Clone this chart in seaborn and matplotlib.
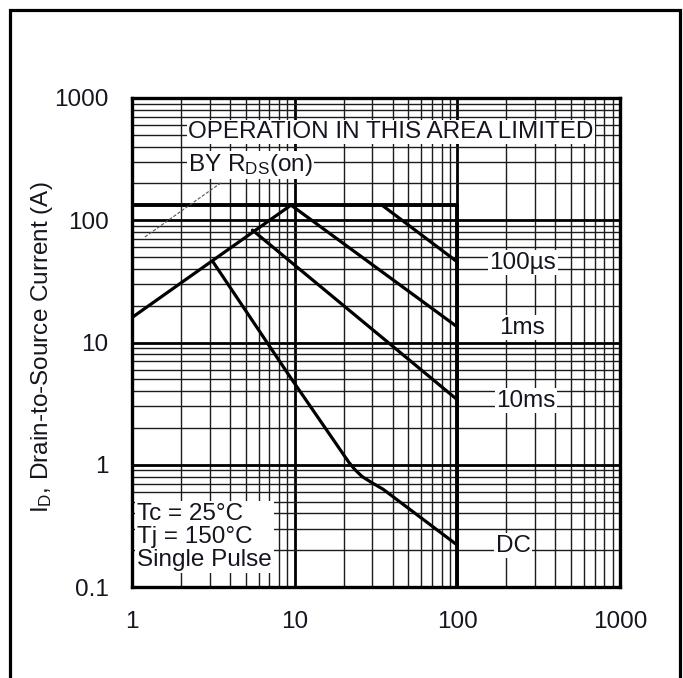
import numpy as np
import pandas as pd
import matplotlib
matplotlib.use("Agg")
import matplotlib.pyplot as plt
from matplotlib.lines import Line2D
from matplotlib.ticker import FixedLocator, FixedFormatter, LogLocator, NullFormatter
import seaborn as sns

# ---- data ----
rds_x = [1, 9.5]
rds_y = [16, 133]
limit_x = [1, 100, 100]
limit_y = [133, 133, 0.1]
us100_x = [34.4, 100]
us100_y = [133, 45.6]
ms1_x = [9.5, 100]
ms1_y = [133, 13.4]
ms10_x = [5.5, 100]
ms10_y = [83, 3.4]
dc_x = [3.15, 9.4, 21.5, 23.5, 26, 30, 35, 100]
dc_y = [45.6, 5.2, 1.05, 0.91, 0.8, 0.71, 0.63, 0.22]

curve_labels = ["100\u00b5s", "1ms", "10ms", "DC"]
x_ticks = [1, 10, 100, 1000]
x_tick_labels = ["1", "10", "100", "1000"]
y_ticks = [0.1, 1, 10, 100, 1000]
y_tick_labels = ["0.1", "1", "10", "100", "1000"]
rds_hint_x = [1.2, 3.57]
rds_hint_y = [73, 205]

sns.set_style("white")
plt.rcParams["font.family"] = ["Liberation Sans", "DejaVu Sans"]
plt.rcParams["mathtext.fontset"] = "custom"
plt.rcParams["mathtext.rm"] = "Liberation Sans"
plt.rcParams["mathtext.it"] = "Liberation Sans"

FS = 17.5
TXT = "#151520"

fig = plt.figure(figsize=(6.83, 6.78), dpi=100)
W, H = 683, 678
L, R, T, B = 132, 620, 98, 587
ax = fig.add_axes([L / W, 1 - B / H, (R - L) / W, (B - T) / H])
ax.set_xscale("log")
ax.set_yscale("log")
ax.set_xlim(1, 1000)
ax.set_ylim(0.1, 1000)

# grid
ax.xaxis.set_minor_locator(LogLocator(base=10, subs=np.arange(2, 10)))
ax.yaxis.set_minor_locator(LogLocator(base=10, subs=np.arange(2, 10)))
ax.xaxis.set_minor_formatter(NullFormatter())
ax.yaxis.set_minor_formatter(NullFormatter())
ax.grid(which="major", color="black", lw=2.0, zorder=0)
ax.grid(which="minor", color="#1c1c1c", lw=1.0, zorder=0)
ax.set_axisbelow(True)

# curves
series = [
    (limit_x, limit_y, 2.8),
    (rds_x, rds_y, 2.3),
    (us100_x, us100_y, 2.3),
    (ms1_x, ms1_y, 2.3),
    (ms10_x, ms10_y, 2.3),
    (dc_x, dc_y, 2.3),
]
for xs, ys, lw in series:
    df = pd.DataFrame({"x": xs, "y": ys})
    sns.lineplot(data=df, x="x", y="y", sort=False, estimator=None,
                 color="black", lw=lw, ax=ax, zorder=3)

# thin dashed hint line under R_DS(on) text
ax.plot(rds_hint_x, rds_hint_y, color="#555555", lw=0.8, ls=(0, (3, 1.5)), zorder=3)

# ticks
ax.xaxis.set_major_locator(FixedLocator(x_ticks))
ax.xaxis.set_major_formatter(FixedFormatter(x_tick_labels))
ax.yaxis.set_major_locator(FixedLocator(y_ticks))
ax.yaxis.set_major_formatter(FixedFormatter(y_tick_labels))
ax.tick_params(axis="x", which="both", length=0, pad=17, labelsize=FS, labelcolor=TXT)
ax.tick_params(axis="y", which="major", direction="in", length=16, width=2.2,
               color="black", pad=17, labelsize=FS, labelcolor=TXT)
ax.tick_params(axis="y", which="minor", length=0)

for sp in ax.spines.values():
    sp.set_visible(True)
    sp.set_color("black")
    sp.set_linewidth(2.4)

ax.set_xlabel("")
ax.set_ylabel(r"I$_{\mathregular{D}}$, Drain-to-Source Current (A)", fontsize=FS, color=TXT)
ax.yaxis.set_label_coords(-0.158, 0.49)

wbox = dict(facecolor="white", edgecolor="none", pad=1.0)

ax.text(2.21, 527, "OPERATION IN THIS AREA LIMITED", fontsize=FS, color=TXT,
        ha="left", va="center", bbox=wbox, zorder=5)
ax.text(2.21, 283, r"BY R$_{\mathregular{DS}}$(on)", fontsize=FS, color=TXT,
        ha="left", va="center", bbox=wbox, zorder=5)

label_x = [253, 250, 264, 220]
ends = [us100_y[-1], ms1_y[-1], ms10_y[-1], dc_y[-1]]
for lx, ly, lab in zip(label_x, ends, curve_labels):
    ax.text(lx, ly * 0.985, lab, fontsize=FS, color=TXT, ha="center", va="center",
            bbox=wbox, zorder=5)

ax.text(1.07, 0.135, "Tc = 25\u00b0C\nTj = 150\u00b0C\nSingle Pulse", fontsize=FS,
        color=TXT, ha="left", va="bottom", linespacing=1.05,
        bbox=dict(facecolor="white", edgecolor="none", pad=1.5), zorder=5)

# outer frame of the figure (open at the bottom)
x0, x1 = 9.5 / W, 680 / W
yt = 1 - 9.5 / H
fig.add_artist(Line2D([x0, x0, x1, x1], [-0.01, yt, yt, -0.01],
                      transform=fig.transFigure, color="black", lw=2.3,
                      solid_joinstyle="miter"))

fig.savefig("out.png", dpi=100)
